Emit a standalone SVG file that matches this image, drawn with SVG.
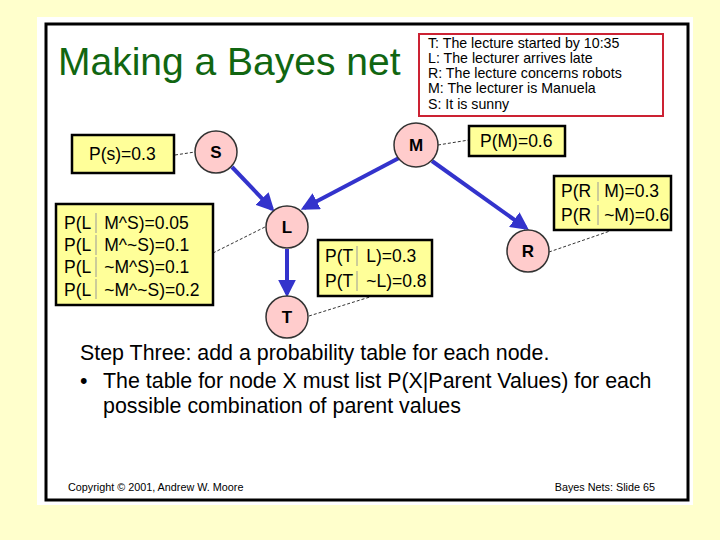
<svg xmlns="http://www.w3.org/2000/svg" width="720" height="540" viewBox="0 0 720 540">
<style>
text{font-family:"Liberation Sans",Arial,sans-serif;}
.node circle{fill:#FFCCCC;stroke:#333;stroke-width:1.5;}
.node text{font-size:17px;font-weight:bold;text-anchor:middle;fill:#000;}
.box rect{fill:#FFFF99;stroke:#000;stroke-width:2.5;}
.box text{font-size:17.5px;fill:#000;}
.bar{stroke:#999;stroke-width:1;}
.dash{stroke:#333;stroke-width:1;stroke-dasharray:3,2;fill:none;}
.arrow{stroke:#3333CC;stroke-width:4;fill:none;marker-end:url(#ah);}
.legend{font-size:14.2px;fill:#000;}
.body{font-size:21.4px;fill:#000;}
.foot{font-size:10.8px;fill:#000;}
</style>
<defs>
<marker id="ah" viewBox="0 0 10 10" refX="8" refY="5" markerWidth="4.5" markerHeight="4.5" orient="auto" markerUnits="strokeWidth">
<path d="M0,0 L10,5 L0,10 z" fill="#3333CC"/>
</marker>
</defs>
<rect x="0" y="0" width="720" height="540" fill="#FFFFCC"/>
<rect x="37" y="17" width="656" height="488" fill="#FFFFFF"/>
<rect x="46" y="24" width="642" height="476" fill="none" stroke="#000" stroke-width="3"/>
<text x="58" y="75" font-size="39" fill="#116611">Making a Bayes net</text>
<g id="legend">
<rect x="419" y="34" width="244" height="82" fill="#FFFFFF" stroke="#CC2233" stroke-width="2"/>
<text class="legend" x="428" y="48">T: The lecture started by 10:35</text>
<text class="legend" x="428" y="63">L: The lecturer arrives late</text>
<text class="legend" x="428" y="78">R: The lecture concerns robots</text>
<text class="legend" x="428" y="93">M: The lecturer is Manuela</text>
<text class="legend" x="428" y="109">S: It is sunny</text>
</g>
<g id="connectors">
<line class="dash" x1="175" y1="155" x2="195" y2="152"/>
<line class="dash" x1="438" y1="145" x2="469" y2="140"/>
<line class="dash" x1="549" y1="252" x2="610" y2="231"/>
<line class="dash" x1="213" y1="253" x2="265" y2="227"/>
<line class="dash" x1="309" y1="316" x2="373" y2="296"/>
<line class="arrow" x1="232" y1="167" x2="272" y2="209"/>
<line class="arrow" x1="399" y1="158" x2="304" y2="208"/>
<line class="arrow" x1="432" y1="161" x2="526" y2="228"/>
<line class="arrow" x1="287" y1="249" x2="287" y2="294"/>
</g>
<g id="node-S" class="node"><circle cx="216" cy="152" r="21"/><text x="216" y="158">S</text></g>
<g id="node-M" class="node"><circle cx="416" cy="145" r="22"/><text x="416" y="151">M</text></g>
<g id="node-L" class="node"><circle cx="287" cy="227" r="21"/><text x="287" y="233">L</text></g>
<g id="node-R" class="node"><circle cx="528" cy="251" r="21"/><text x="528" y="257">R</text></g>
<g id="node-T" class="node"><circle cx="287" cy="317" r="21"/><text x="287" y="323">T</text></g>
<g id="box-S" class="box"><rect x="72" y="135" width="102" height="38"/><text x="89" y="160">P(s)=0.3</text></g>
<g id="box-M" class="box"><rect x="469" y="126" width="96" height="30"/><text x="480" y="147">P(M)=0.6</text></g>
<g id="box-R" class="box"><rect x="554" y="176" width="117" height="54"/>
<text x="561" y="197">P(R<tspan dx="13">M)=0.3</tspan></text>
<text x="561" y="221">P(R<tspan dx="13">~M)=0.6</tspan></text>
<line class="bar" x1="598" y1="182" x2="598" y2="201"/><line class="bar" x1="598" y1="205" x2="598" y2="225"/>
</g>
<g id="box-L" class="box"><rect x="56" y="204" width="157" height="101"/>
<text x="64" y="229">P(L<tspan dx="13">M^S)=0.05</tspan></text>
<text x="64" y="251">P(L<tspan dx="13">M^~S)=0.1</tspan></text>
<text x="64" y="273">P(L<tspan dx="13">~M^S)=0.1</tspan></text>
<text x="64" y="296">P(L<tspan dx="13">~M^~S)=0.2</tspan></text>
<line class="bar" x1="96" y1="213" x2="96" y2="233"/><line class="bar" x1="96" y1="235" x2="96" y2="255"/>
<line class="bar" x1="96" y1="257" x2="96" y2="277"/><line class="bar" x1="96" y1="279" x2="96" y2="299"/>
</g>
<g id="box-T" class="box"><rect x="318" y="240" width="114" height="56"/>
<text x="325" y="262">P(T<tspan dx="13">L)=0.3</tspan></text>
<text x="325" y="287">P(T<tspan dx="13">~L)=0.8</tspan></text>
<line class="bar" x1="357" y1="246" x2="357" y2="266"/><line class="bar" x1="357" y1="271" x2="357" y2="291"/>
</g>
<text class="body" x="80" y="360">Step Three: add a probability table for each node.</text>
<text class="body" x="80" y="388">•</text>
<text class="body" x="103" y="388">The table for node X must list P(X|Parent Values) for each</text>
<text class="body" x="103" y="413">possible combination of parent values</text>
<text class="foot" x="68" y="491">Copyright © 2001, Andrew W. Moore</text>
<text class="foot" x="655" y="491" text-anchor="end">Bayes Nets: Slide 65</text>
</svg>
